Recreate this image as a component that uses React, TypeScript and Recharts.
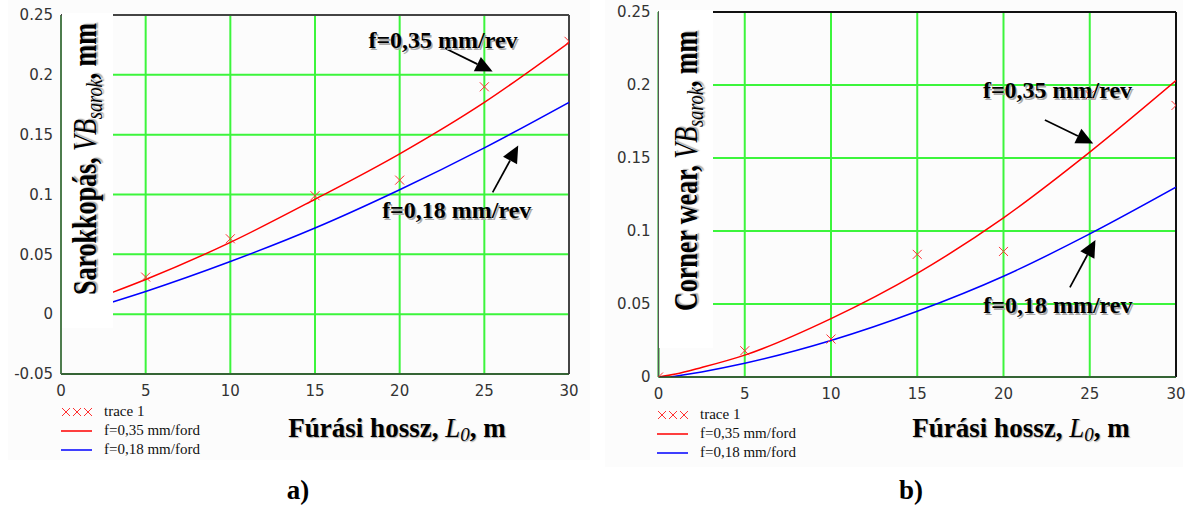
import type { ReactNode } from "react";
import {
  CartesianGrid,
  ComposedChart,
  Line,
  ReferenceDot,
  ReferenceLine,
  Scatter,
  XAxis,
  YAxis,
} from "recharts";

// shared axes
const LENGTH_TICKS = [0, 5, 10, 15, 20, 25, 30];
const WEAR_TICKS_A = [-0.05, 0, 0.05, 0.1, 0.15, 0.2, 0.25];
const WEAR_TICKS_B = [0, 0.05, 0.1, 0.15, 0.2, 0.25];

const FEED_LABELS = ["f=0,35 mm/rev", "f=0,18 mm/rev"];
const LEGEND_LABELS = ["trace 1", "f=0,35 mm/ford", "f=0,18 mm/ford"];

// a) Sarokkopás
const CURVE_LENGTH_A = [3, 5, 10, 15, 20, 25, 30];
const FEED_035_A = [0.018, 0.029, 0.06, 0.096, 0.134, 0.177, 0.227];
const FEED_018_A = [0.01, 0.019, 0.044, 0.072, 0.104, 0.139, 0.177];
const TRACE_LENGTH_A = [5, 10, 15, 20, 25, 30];
const TRACE_WEAR_A = [0.031, 0.063, 0.099, 0.112, 0.19, 0.228];

// b) Corner wear
const CURVE_LENGTH_B_035 = [0, 1, 2.5, 5, 10, 15, 20, 25, 30];
const FEED_035_B = [0, 0.002, 0.0065, 0.015, 0.04, 0.071, 0.109, 0.154, 0.203];
const CURVE_LENGTH_B_018 = [0.7, 1.5, 2.5, 5, 10, 15, 20, 25, 30];
const FEED_018_B = [0, 0.0015, 0.0035, 0.0094, 0.025, 0.045, 0.069, 0.098, 0.13];
const TRACE_LENGTH_B = [0, 5, 10, 15, 20, 25, 30];
const TRACE_WEAR_B = [0, 0.018, 0.026, 0.084, 0.086, 0.193, 0.186];

// annotation anchors in data units: [length, wear]
const NOTE_TEXT_A = [[22.56, 0.2291], [23.37, 0.0872]];
const NOTE_TAIL_A = [[22.68, 0.2222], [25.49, 0.1017]];
const NOTE_TIP_A = [[25.49, 0.2027], [27.0, 0.1409]];
const NOTE_TEXT_B = [[23.13, 0.1966], [23.15, 0.0493]];
const NOTE_TAIL_B = [[22.4, 0.176], [23.85, 0.0614]];
const NOTE_TIP_B = [[25.2, 0.16], [25.33, 0.0938]];

const SERIF = "'Liberation Serif', 'Times New Roman', serif";
const SANS = "'DejaVu Sans', sans-serif";
const GRID_GREEN = "#3cf53c";
const RED = "#ff0000";
const BLUE = "#0000ff";

const toPoints = (xs: number[], ys: number[]) =>
  xs.map((x, i) => ({ x, y: ys[i] }));

function Cross(props: any) {
  const { cx, cy } = props;
  if (cx == null || cy == null) return null;
  const s = 4.5;
  return (
    <g stroke="#ff3030" strokeWidth={1}>
      <line x1={cx - s} y1={cy - s} x2={cx + s} y2={cy + s} />
      <line x1={cx - s} y1={cy + s} x2={cx + s} y2={cy - s} />
    </g>
  );
}

function Arrow(props: any) {
  const { x1, y1, x2, y2 } = props;
  const dx = x2 - x1;
  const dy = y2 - y1;
  const len = Math.hypot(dx, dy) || 1;
  const ux = dx / len;
  const uy = dy / len;
  const head = 17;
  const half = 8;
  const bx = x2 - ux * head;
  const by = y2 - uy * head;
  return (
    <g>
      <line x1={x1} y1={y1} x2={bx} y2={by} stroke="#000" strokeWidth={1.7} />
      <polygon
        points={`${x2},${y2} ${bx - uy * half},${by + ux * half} ${bx + uy * half},${by - ux * half}`}
        fill="#000"
      />
    </g>
  );
}

const noteShape = (label: string) => (props: any) => {
  const { cx, cy } = props;
  const common = {
    textAnchor: "middle" as const,
    dy: "0.35em",
    fontFamily: SERIF,
    fontSize: 24,
    fontWeight: 700,
  };
  return (
    <g>
      <text x={cx + 1.5} y={cy + 1.5} fill="#aaa" {...common}>
        {label}
      </text>
      <text x={cx} y={cy} fill="#000" {...common}>
        {label}
      </text>
    </g>
  );
};

type PanelProps = {
  left: number;
  width: number;
  margin: { top: number; right: number; bottom: number; left: number };
  yAxisWidth: number;
  yDomain: [number, number];
  yTicks: number[];
  red: { x: number; y: number }[];
  blue: { x: number; y: number }[];
  trace: { x: number; y: number }[];
  noteText: number[][];
  noteTail: number[][];
  noteTip: number[][];
  borderColor: string;
};

function WearPanel(p: PanelProps) {
  const tick = { fontSize: 15, fill: "#333", fontFamily: SANS };
  return (
    <div style={{ position: "absolute", left: p.left, top: 0 }}>
      <ComposedChart width={p.width} height={507} margin={p.margin}>
        <CartesianGrid stroke={GRID_GREEN} strokeWidth={2} />
        <XAxis
          type="number"
          dataKey="x"
          domain={[0, 30]}
          ticks={LENGTH_TICKS}
          interval={0}
          allowDataOverflow
          tickLine={false}
          tickMargin={5}
          height={30}
          tick={tick}
          axisLine={{ stroke: "#333", strokeWidth: 1.5 }}
        />
        <YAxis
          type="number"
          dataKey="y"
          domain={p.yDomain}
          ticks={p.yTicks}
          interval={0}
          allowDataOverflow
          tickLine={false}
          width={p.yAxisWidth}
          tick={tick}
          tickFormatter={(v) => String(v)}
          axisLine={{ stroke: "#555", strokeWidth: 1.5 }}
        />
        <ReferenceLine y={p.yDomain[1]} stroke={p.borderColor} strokeWidth={2} />
        <ReferenceLine x={30} stroke={p.borderColor} strokeWidth={2} />
        <Line
          data={p.red}
          dataKey="y"
          type="monotone"
          stroke={RED}
          strokeWidth={1.5}
          dot={false}
          activeDot={false}
          isAnimationActive={false}
          name={LEGEND_LABELS[1]}
        />
        <Line
          data={p.blue}
          dataKey="y"
          type="monotone"
          stroke={BLUE}
          strokeWidth={1.5}
          dot={false}
          activeDot={false}
          isAnimationActive={false}
          name={LEGEND_LABELS[2]}
        />
        <Scatter
          data={p.trace}
          dataKey="y"
          shape={<Cross />}
          isAnimationActive={false}
          name={LEGEND_LABELS[0]}
        />
        {p.noteTail.map((t, i) => (
          <ReferenceLine
            key={`arrow-${i}`}
            segment={[
              { x: t[0], y: t[1] },
              { x: p.noteTip[i][0], y: p.noteTip[i][1] },
            ]}
            ifOverflow="visible"
            shape={Arrow}
          />
        ))}
        {p.noteText.map((t, i) => (
          <ReferenceDot
            key={`note-${i}`}
            x={t[0]}
            y={t[1]}
            r={1}
            ifOverflow="visible"
            shape={noteShape(FEED_LABELS[i])}
          />
        ))}
      </ComposedChart>
    </div>
  );
}

function YTitle({ lead, cx, cy }: { lead: string; cx: number; cy: number }) {
  return (
    <div
      style={{
        position: "absolute",
        left: cx,
        top: cy,
        transform: "translate(-50%, -50%) rotate(-90deg) scaleY(1.28)",
        whiteSpace: "nowrap",
        fontFamily: SERIF,
        fontSize: 26,
        fontWeight: 700,
        lineHeight: 1,
        color: "#000",
        textShadow: "1px 1px 1px #aaa",
      }}
    >
      {lead},{" "}
      <span style={{ fontStyle: "italic", fontWeight: 400 }}>
        VB
        <span style={{ fontSize: "0.7em", verticalAlign: "-0.25em" }}>
          sarok
        </span>
      </span>
      , mm
    </div>
  );
}

function XTitle({ cx }: { cx: number }) {
  return (
    <div
      style={{
        position: "absolute",
        left: cx - 150,
        top: 415,
        width: 300,
        textAlign: "center",
        whiteSpace: "nowrap",
        fontFamily: SERIF,
        fontSize: 27,
        fontWeight: 700,
        lineHeight: "27px",
        color: "#000",
        textShadow: "1px 1px 1px #aaa",
      }}
    >
      Fúrási hossz,{" "}
      <span style={{ fontStyle: "italic", fontWeight: 400 }}>
        L
        <span style={{ fontSize: "0.7em", verticalAlign: "-0.2em" }}>0</span>
      </span>
      , m
    </div>
  );
}

function LegendBlock({ left, top, rowHeight }: { left: number; top: number; rowHeight: number }) {
  const marks: ReactNode[] = [
    <svg width={32} height={10} key="x">
      {[5, 16, 27].map((c) => (
        <g key={c} stroke="#ff3030" strokeWidth={1}>
          <line x1={c - 4} y1={1} x2={c + 4} y2={9} />
          <line x1={c - 4} y1={9} x2={c + 4} y2={1} />
        </g>
      ))}
    </svg>,
    <svg width={32} height={4} key="r">
      <line x1={0} y1={2} x2={31} y2={2} stroke={RED} strokeWidth={1.5} />
    </svg>,
    <svg width={32} height={4} key="b">
      <line x1={0} y1={2} x2={31} y2={2} stroke={BLUE} strokeWidth={1.5} />
    </svg>,
  ];
  return (
    <div style={{ position: "absolute", left, top }}>
      {LEGEND_LABELS.map((label, i) => (
        <div
          key={label}
          style={{
            display: "flex",
            alignItems: "center",
            height: rowHeight,
            fontFamily: SERIF,
            fontSize: 15,
            color: "#111",
          }}
        >
          <div style={{ width: 43, display: "flex", alignItems: "center" }}>{marks[i]}</div>
          <span>{label}</span>
        </div>
      ))}
    </div>
  );
}

function PanelLabel({ cx, text }: { cx: number; text: string }) {
  return (
    <div
      style={{
        position: "absolute",
        left: cx - 30,
        top: 477,
        width: 60,
        textAlign: "center",
        fontFamily: SERIF,
        fontSize: 27,
        fontWeight: 700,
        lineHeight: "27px",
        color: "#000",
      }}
    >
      {text}
    </div>
  );
}

export default function App() {
  return (
    <div
      style={{
        position: "absolute",
        left: 0,
        top: 0,
        width: 1193,
        height: 507,
        background: "#fff",
        overflow: "hidden",
      }}
    >
      {/* faint panel backgrounds */}
      <div style={{ position: "absolute", left: 8, top: 0, width: 582, height: 460, background: "#fcfcfc" }} />
      <div style={{ position: "absolute", left: 605, top: 0, width: 578, height: 467, background: "#fcfcfc" }} />

      <WearPanel
        left={0}
        width={600}
        margin={{ top: 15, right: 31, bottom: 103, left: 0 }}
        yAxisWidth={61}
        yDomain={[-0.05, 0.25]}
        yTicks={WEAR_TICKS_A}
        red={toPoints(CURVE_LENGTH_A, FEED_035_A)}
        blue={toPoints(CURVE_LENGTH_A, FEED_018_A)}
        trace={toPoints(TRACE_LENGTH_A, TRACE_WEAR_A)}
        noteText={NOTE_TEXT_A}
        noteTail={NOTE_TAIL_A}
        noteTip={NOTE_TIP_A}
        borderColor="#444"
      />
      <WearPanel
        left={596}
        width={597}
        margin={{ top: 12, right: 17, bottom: 100, left: 0 }}
        yAxisWidth={62.5}
        yDomain={[0, 0.25]}
        yTicks={WEAR_TICKS_B}
        red={toPoints(CURVE_LENGTH_B_035, FEED_035_B)}
        blue={toPoints(CURVE_LENGTH_B_018, FEED_018_B)}
        trace={toPoints(TRACE_LENGTH_B, TRACE_WEAR_B)}
        noteText={NOTE_TEXT_B}
        noteTail={NOTE_TAIL_B}
        noteTip={NOTE_TIP_B}
        borderColor="#111"
      />

      {/* white boxes behind the rotated y titles */}
      <div style={{ position: "absolute", left: 62, top: 13, width: 51, height: 315, background: "#fff" }} />
      <div style={{ position: "absolute", left: 659, top: 10, width: 54, height: 338, background: "#fff" }} />
      <YTitle lead="Sarokkopás" cx={88} cy={159} />
      <YTitle lead="Corner wear" cx={689} cy={171} />

      <XTitle cx={397} />
      <XTitle cx={1021} />
      <LegendBlock left={61} top={402} rowHeight={19} />
      <LegendBlock left={657} top={405} rowHeight={19.2} />
      <PanelLabel cx={298} text="a)" />
      <PanelLabel cx={911} text="b)" />
    </div>
  );
}
